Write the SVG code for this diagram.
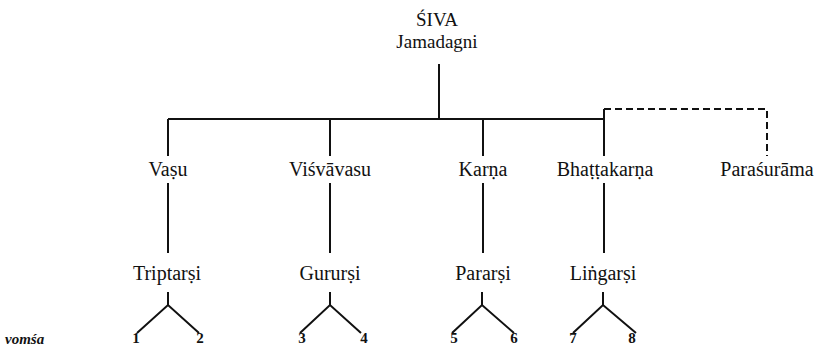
<svg xmlns="http://www.w3.org/2000/svg" width="815" height="348" viewBox="0 0 815 348">
  <style>
    .lbl { font-family: "Liberation Serif", "DejaVu Serif", serif; font-size: 20px; fill: #111; text-anchor: middle; }
    .top { font-family: "Liberation Serif", "DejaVu Serif", serif; font-size: 19px; fill: #111; text-anchor: middle; }
    .num { font-family: "Liberation Serif", "DejaVu Serif", serif; font-size: 15px; font-weight: bold; fill: #111; text-anchor: middle; }
    .cap { font-family: "Liberation Serif", "DejaVu Serif", serif; font-size: 15px; font-style: italic; font-weight: bold; fill: #111; }
    .ln { stroke: #111; stroke-width: 2; fill: none; }
    .dash { stroke: #111; stroke-width: 2; fill: none; stroke-dasharray: 7 4; }
  </style>
  <rect width="815" height="348" fill="#fff"/>

  <!-- connectors -->
  <g id="connectors">
    <path class="ln" d="M439 64 V119"/>
    <path class="ln" d="M168 119 H604"/>
    <path class="ln" d="M168 119 V156 M330 119 V156 M483 119 V156 M604 109 V156"/>
    <path class="dash" d="M604 109 H767 V156"/>
    <path class="ln" d="M168 183 V253 M330 183 V253 M483 183 V253 M604 183 V253"/>
    <!-- vomśa forks -->
    <path class="ln" d="M168 292 V305 M137 333 L168 305 L199 333"/>
    <path class="ln" d="M330 292 V305 M300 333 L330 305 L361 333"/>
    <path class="ln" d="M482 292 V305 M452 333 L482 305 L514 333"/>
    <path class="ln" d="M603 292 V305 M573 333 L603 305 L636 333"/>
  </g>

  <g id="siva">
    <text class="top" x="437" y="26">ŚIVA</text>
    <text class="top" x="437" y="48">Jamadagni</text>
  </g>

  <g id="vasu"><text class="lbl" x="168" y="176">Vaṣu</text></g>
  <g id="visvavasu"><text class="lbl" x="330" y="176">Viśvāvasu</text></g>
  <g id="karna"><text class="lbl" x="483" y="176">Karṇa</text></g>
  <g id="bhattakarna"><text class="lbl" x="605" y="176">Bhaṭṭakarṇa</text></g>
  <g id="parasurama"><text class="lbl" x="767" y="176">Paraśurāma</text></g>

  <g id="triptarsi"><text class="lbl" x="167" y="280">Triptarṣi</text></g>
  <g id="gururshi"><text class="lbl" x="330" y="280">Gururṣi</text></g>
  <g id="pararshi"><text class="lbl" x="483" y="280">Pararṣi</text></g>
  <g id="lingarshi"><text class="lbl" x="603" y="280">Liṅgarṣi</text></g>

  <g id="vomsa">
    <text class="cap" x="5" y="344">vomśa</text>
    <text class="num" x="136" y="343">1</text>
    <text class="num" x="200" y="343">2</text>
    <text class="num" x="302" y="343">3</text>
    <text class="num" x="364" y="343">4</text>
    <text class="num" x="454" y="343">5</text>
    <text class="num" x="514" y="343">6</text>
    <text class="num" x="573" y="343">7</text>
    <text class="num" x="632" y="343">8</text>
  </g>
</svg>
